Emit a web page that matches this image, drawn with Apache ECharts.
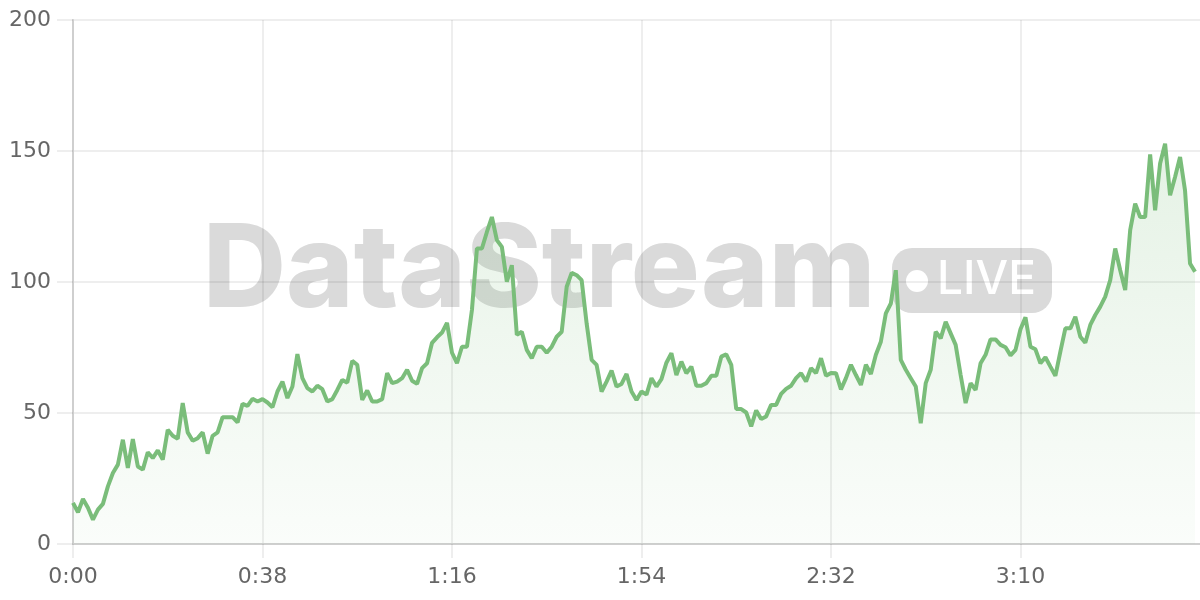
<!DOCTYPE html>
<html>
<head>
<meta charset="utf-8">
<script src="https://cdn.jsdelivr.net/npm/echarts@6/dist/echarts.min.js"></script>
<style>
html,body{margin:0;padding:0;background:#fff;}
#chart{width:1200px;height:600px;}
</style>
</head>
<body>
<div id="chart"></div>
<script>
// minutes elapsed -> value
const values = [
 15.7,12.1,17.2,13.8,9.3,13.1,15.3,22,27.1,30.3,
 39.8,29,40,29.6,28.4,35,32.8,35.7,32.2,43.6,
 41.3,40.2,53.8,42.6,39.4,40.4,42.6,34.5,41.3,42.6,
 48.4,48.4,48.4,46.4,53.5,52.7,55.4,54.4,55.3,54,
 52.2,58.2,62,55.7,60.1,72.5,63.3,59.5,58.2,60.4,
 59.1,54.4,55.3,58.8,62.6,61.6,69.9,68.4,55,58.6,
 54.4,54.4,55.3,65.2,61.4,62,63.3,66.5,62.3,61.1,
 67.1,69,76.8,78.9,80.7,84.4,73,69,75.3,75.3,
 89.3,112.8,112.8,119.1,124.8,116,113.4,100.1,106.4,79.8,
 81,74.1,70.9,75.3,75.3,73,75.3,79.1,81,98.2,
 103.5,102.6,100.7,84.2,70.3,68.4,58.2,62,66.2,60.1,
 61.1,64.9,58.2,55,58.2,57,63.3,60.1,62.9,69.2,
 72.8,64.5,69.6,65.2,67.7,60.4,60.4,61.4,64.2,64.2,
 71.5,72.4,68.4,51.5,51.5,50.2,44.9,51,47.7,48.7,
 53.1,53.1,57.3,59.2,60.4,63.3,65.2,62,67.1,65.2,
 70.9,64.2,65.3,65.2,59,63.3,68.4,64.5,60.7,68.4,
 64.9,72.2,77.2,88,91.8,104.5,70.3,66.5,63.3,60.1,
 46.1,61.4,66.5,81,78.5,84.8,80.4,76,64.5,53.8,
 61.4,58.8,69,72.2,78.1,78.1,76,75.1,72,74.1,
 82,86.5,75.3,74.3,69,71.3,67.7,64.2,73.4,82.3,
 82.3,86.7,79.1,76.8,83.6,87.4,90.6,94.4,100.7,112.8,
 104.5,96.9,119.8,129.9,124.8,124.8,148.7,127.4,145.2,152.8,
 133.1,140.1,147.7,134.9,107.1,103.9
];
const tickLabels = ['0:00','0:38','1:16','1:54','2:32','3:10'];
const yTicks = [0, 50, 100, 150, 200];
const axisSpan = 227; // category slots on x axis (minutes 0..226)

const categories = [];
for (let m = 0; m < axisSpan; m++) {
  categories.push(Math.floor(m / 60) + ':' + String(m % 60).padStart(2, '0'));
}

const green = '#7abd7a';
const wm = '#dadada';
const labelFont = 'DejaVu Sans';
const chart = echarts.init(document.getElementById('chart'), null, {renderer: 'canvas'});
chart.setOption({
  animation: false,
  backgroundColor: '#ffffff',
  grid: {left: 73, right: 0, top: 20, bottom: 56, containLabel: false},
  graphic: [
    {type: 'text', z: -10, x: 203, y: 272,
     style: {text: 'DataStream', font: '800 115px Inter', fill: wm, align: 'left', verticalAlign: 'middle'}},
    {type: 'rect', z: -10, shape: {x: 892, y: 248, width: 160, height: 65, r: 20},
     style: {fill: wm}},
    {type: 'circle', z: -9, shape: {cx: 917, cy: 281, r: 11}, style: {fill: '#ffffff'}},
    {type: 'text', z: -9, x: 937, y: 280,
     style: {text: 'LIVE', font: '500 46px Inter', fill: '#ffffff', align: 'left', verticalAlign: 'middle'}}
  ],
  xAxis: {
    type: 'category',
    data: categories,
    boundaryGap: false,
    axisLine: {show: true, lineStyle: {color: '#cfcfcf', width: 2}},
    axisTick: {show: true, interval: 37, length: 14, lineStyle: {color: 'rgba(0,0,0,0.09)', width: 1.5}},
    axisLabel: {
      interval: 37, margin: 22, color: '#666', fontSize: 22, fontFamily: labelFont,
      formatter: function (v, i) { return tickLabels[i / 38] !== undefined ? tickLabels[i / 38] : v; }
    },
    splitLine: {show: true, interval: 37, lineStyle: {color: 'rgba(0,0,0,0.09)', width: 1.5}}
  },
  yAxis: {
    type: 'value',
    min: yTicks[0], max: yTicks[yTicks.length - 1], interval: 50,
    axisLine: {show: true, lineStyle: {color: '#cfcfcf', width: 2}},
    axisTick: {show: true, length: 16, lineStyle: {color: 'rgba(0,0,0,0.09)', width: 1.5}},
    axisLabel: {margin: 22, color: '#666', fontSize: 22, fontFamily: labelFont},
    splitLine: {show: true, lineStyle: {color: 'rgba(0,0,0,0.09)', width: 1.5}}
  },
  series: [{
    type: 'line',
    data: values,
    symbol: 'none',
    smooth: false,
    lineStyle: {color: green, width: 4},
    areaStyle: {
      color: new echarts.graphic.LinearGradient(0, 0, 0, 1, [
        {offset: 0, color: 'rgba(122,189,122,0.28)'},
        {offset: 1, color: 'rgba(122,189,122,0.05)'}
      ])
    }
  }]
});
</script>
</body>
</html>
